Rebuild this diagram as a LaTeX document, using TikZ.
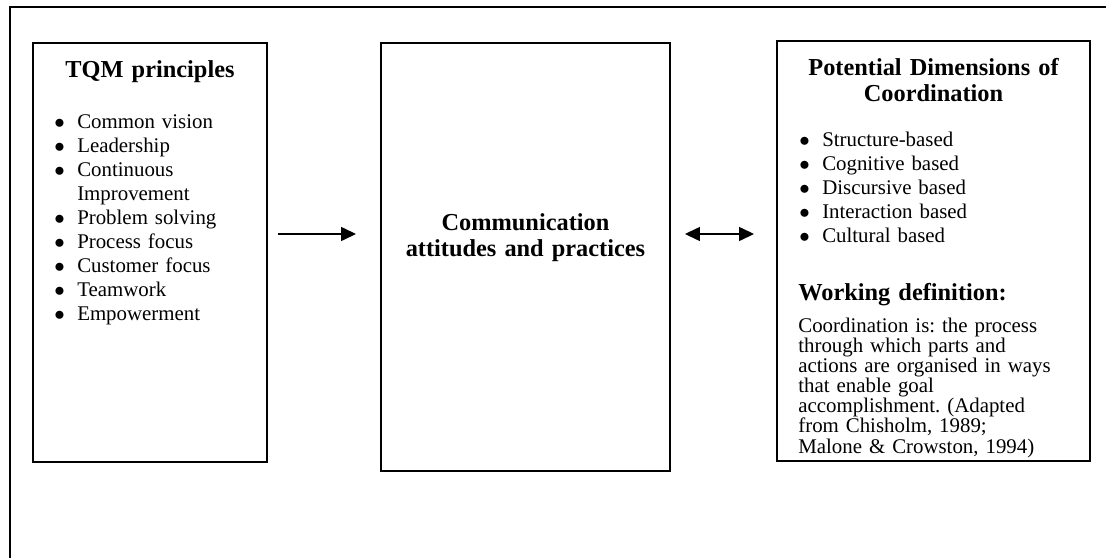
\documentclass[tikz,border=0pt]{standalone}
\usepackage{fontspec}
\setmainfont{Liberation Serif}
\usetikzlibrary{arrows.meta}
\frenchspacing
\def\px{0.575pt}
\newcommand{\bitem}[1]{\hangindent=12.6pt\hangafter=1\noindent\makebox[12.6pt][l]{\hspace{-0.6pt}$\bullet$}#1\par}
\tikzset{
	box/.style={draw, line width=1.1pt, inner sep=0pt},
	head/.style={font=\fontsize{14}{15}\bfseries, inner sep=0pt, text width=180pt, align=center},
	list/.style={font=\fontsize{12}{13.8}\selectfont, inner sep=0pt, text width=160pt, align=left},
	para/.style={font=\fontsize{12}{11.6}\selectfont, inner sep=0pt, text width=160pt, align=left},
	link/.style={line width=0.9pt, -{Triangle[length=8.6pt,width=8pt]}},
	both/.style={line width=0.9pt, {Triangle[length=8.6pt,width=8pt]}-{Triangle[length=8.6pt,width=8pt]}},
}
\begin{document}
\begin{tikzpicture}[x=\px, y=-\px]
			%%%%% START %%%%%
			\useasboundingbox (0,0) rectangle (1106,558);
			
			\draw[line width=1.3pt] (10,558) -- (10,7) -- (1106,7);
			
			\node[box, minimum width=234*\px, minimum height=419*\px] (tqm) at (150,252.5) {};
			\node[box, minimum width=289*\px, minimum height=428*\px] (comm) at (525.5,257) {};
			\node[box, minimum width=313*\px, minimum height=420*\px] (coord) at (933.5,251) {};
			
			\node[head, anchor=base] (tqmhead) at (150,77) {TQM principles};
			\node[list, anchor=base west] (tqmlist) at (55,128) {\bitem{Common vision}\bitem{Leadership}\bitem{Continuous\newline Improvement}\bitem{Problem solving}\bitem{Process focus}\bitem{Customer focus}\bitem{Teamwork}\bitem{Empowerment}};
			
			\node[head, anchor=base] (commtext) at (525.5,230) {Communication\\attitudes and practices};
			
			\node[head, anchor=base] (coordhead) at (933.5,75) {Potential Dimensions of\\Coordination};
			\node[list, anchor=base west] (coordlist) at (800,146) {\bitem{Structure-based}\bitem{Cognitive based}\bitem{Discursive based}\bitem{Interaction based}\bitem{Cultural based}};
			\node[head, anchor=base west, align=left] (workhead) at (798,300) {Working definition:};
			\node[para, anchor=base west] (workdef) at (798,332) {Coordination is: the process\\through which parts and\\actions are organised in ways\\that enable goal\\accomplishment. (Adapted\\from Chisholm, 1989;\\Malone \& Crowston, 1994)};
			
			\coordinate (lvl) at (0,234);
			\draw[link, shorten <=10*\px, shorten >=24*\px] (tqm.east |- lvl) -- (comm.west |- lvl);
			\draw[both, shorten <=14*\px, shorten >=22*\px] (comm.east |- lvl) -- (coord.west |- lvl);
			%%%%% END %%%%%
\end{tikzpicture}
\end{document}
